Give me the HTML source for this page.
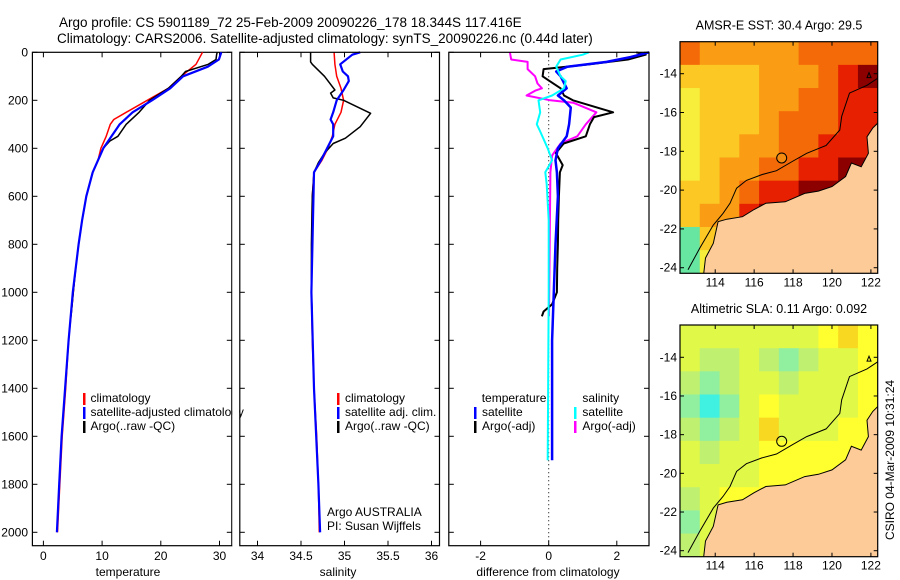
<!DOCTYPE html>
<html><head><meta charset="utf-8"><style>
html,body{margin:0;padding:0;background:#fff;}
svg{display:block;font-family:"Liberation Sans",sans-serif;}
</style></head><body>
<svg id="fig" width="900" height="580" viewBox="0 0 900 580" xmlns="http://www.w3.org/2000/svg">
<rect x="0" y="0" width="900" height="580" fill="#fff"/>
<g id="g1"></g>
<g id="g2"></g>
<g id="g3"></g>
<g id="m1"></g>
<g id="m2"></g>
<text x="59" y="27" font-size="13.5">Argo profile: CS 5901189_72 25-Feb-2009 20090226_178 18.344S 117.416E</text>
<text x="57" y="43" font-size="13.5">Climatology: CARS2006. Satellite-adjusted climatology: synTS_20090226.nc (0.44d later)</text>
<text transform="translate(894,460) rotate(-90)" text-anchor="middle" font-size="12">CSIRO 04-Mar-2009 10:31:24</text>
</svg>
<script>
// ---------- data ----------
const depthTicks = [0,200,400,600,800,1000,1200,1400,1600,1800,2000];
const tempTicks = [0,10,20,30];
const salTicks = [34,34.5,35,35.5,36];
const salTickLabels = ["34","34.5","35","35.5","36"];
const diffTicks = [-2,0,2];
// temperature profiles
const tClimDepth = [0,50,100,150,200,250,280,300,350,400,450,500,600,700,800,900,1000,1200,1400,1600,1800,2000];
const tClimVal =   [27.1,26,23.5,21.3,17.7,14.1,12,11.4,10.7,9.8,9.3,8.4,7.3,6.6,6.0,5.5,5.1,4.3,3.8,3.2,2.8,2.4];
const tArgoDepth = [0,10,30,50,80,100,150,200,250,300,350,370,400,450,500,600,700,800,900,1000,1050,1100];
const tArgoVal =   [29.6,29.5,29.4,28.1,24.2,23.5,21.3,18.1,16.3,14.1,12.7,11.3,10.2,9.3,8.4,7.3,6.6,6.0,5.5,5.1,4.9,4.7];
const tSatDepth = [0,30,60,100,150,200,250,300,350,400,450,500,600,700,800,900,1000,1200,1400,1600,1800,2000];
const tSatVal =   [30.3,29.9,28.0,23.8,21.6,18.5,15.2,13.0,11.6,10.2,9.3,8.4,7.3,6.6,6.0,5.5,5.0,4.3,3.7,3.1,2.7,2.3];
// salinity profiles
const sClimDepth = [0,50,100,150,200,250,300,350,400,450,500,600,1000,1200,1400,1600,1800,2000];
const sClimVal =   [34.88,34.89,34.91,34.96,34.99,34.96,34.89,34.86,34.81,34.74,34.65,34.63,34.62,34.63,34.65,34.68,34.70,34.71];
const sArgoDepth = [0,40,50,100,157,170,190,200,254,310,358,380,420,460,500,600,800,1000,1100];
const sArgoVal =   [34.61,34.61,34.63,34.77,34.89,34.84,34.87,34.99,35.30,35.18,35.01,34.87,34.77,34.70,34.65,34.63,34.62,34.62,34.63];
const sSatDepth = [0,10,50,80,100,120,157,200,250,280,300,350,400,450,500,1000,1400,1800,2000];
const sSatVal =   [35.18,35.09,34.95,34.98,35.04,35.05,34.99,34.91,34.87,34.84,34.87,34.87,34.80,34.73,34.65,34.62,34.65,34.70,34.72];
// difference profiles
const dTArgoDepth = [0,10,30,50,70,100,117,150,180,200,250,270,300,350,380,420,470,500,600,700,800,900,1000,1050,1080,1100];
const dTArgoVal =   [2.57,2.85,2.33,1.21,-0.15,-0.18,0,0.35,0.45,0.71,1.89,1.33,1.21,1.09,0.44,0.21,0.41,0.33,0.30,0.28,0.27,0.25,0.24,0.10,-0.15,-0.2];
const dTSatDepth = [0,20,40,60,80,100,150,180,200,230,300,350,400,450,500,600,800,1000,1200,1700];
const dTSatVal =   [2.95,2.4,1.7,0.55,0.22,0.35,0.53,0.27,0.45,0.65,0.6,0.53,0.27,0.2,0.24,0.27,0.2,0.15,0.1,0.1];
const dSSatDepth = [0,10,30,60,100,120,150,180,200,250,300,330,400,450,500,550,700,1000,1700];
const dSSatVal =   [1.18,1.0,0.35,0.22,0.35,0.5,0.45,0.1,-0.3,-0.25,-0.35,-0.25,-0.03,0.1,-0.1,-0.06,0,0,-0.03];
const dSArgoDepth = [0,30,40,70,100,130,150,160,180,200,210,250,300,350,380,430,500,1100];
const dSArgoVal =   [-1.14,-1.1,-0.62,-0.62,-0.4,-0.33,-0.2,-0.4,-0.65,0.05,0.72,1.4,1.09,0.84,0.35,0.1,0.05,0.01];
// maps
const mapLonTicks = [114,116,118,120,122];
const mapLatTicks = [14,16,18,20,22,24];
const sstGrid = [
 [4,3,3,3,3,3,4,4,4,4],
 [2,2,2,2,3,3,3,4,5,6],
 [1,2,2,2,3,3,4,4,5,5],
 [1,2,2,2,3,4,4,4,5,5],
 [1,2,2,3,3,4,4,5,5,5],
 [1,2,3,3,4,4,5,5,6,6],
 [2,2,3,4,5,5,6,6,6,6],
 [2,3,3,5,6,6,6,6,6,6],
 [0,2,3,5,6,6,6,6,6,6],
 [0,1,2,4,6,6,6,6,6,6]
];
const slaGrid = [
 [3,3,3,3,3,3,3,4,5,4],
 [3,2,2,3,2,1,2,3,3,4],
 [2,1,2,3,3,2,3,3,3,4],
 [1,0,1,3,4,3,3,3,3,4],
 [2,1,2,3,5,3,3,3,4,4],
 [3,2,3,3,4,4,4,4,4,4],
 [3,3,3,3,4,4,4,4,4,4],
 [2,3,4,4,4,4,4,4,4,4],
 [1,3,4,4,4,4,4,4,4,4],
 [2,3,4,4,4,4,4,4,4,4]
];
const landLon = [113.4,113.5,113.9,114.15,114.6,115.4,116.0,116.6,117.6,118.6,119.3,120.0,120.7,121.0,121.5,121.87,121.8,122.1,122.4,122.4];
const landLat = [24.4,23.5,22.74,21.63,21.5,21.37,21.0,20.68,20.6,20.17,20.05,19.82,19.3,18.6,18.8,18.1,17.25,16.8,16.5,24.4];
const isoLon = [112.6,113.2,113.9,114.4,114.76,115.1,115.6,116.4,117.15,118.0,118.7,119.7,120.4,120.5,120.9,121.8,122.4];
const isoLat = [24.1,23.0,21.8,21.2,20.68,19.9,19.5,19.2,19.0,18.5,18.1,17.7,16.9,16.2,15.0,14.6,14.2];
const argoLon = 117.416, argoLat = 18.344;

const NS="http://www.w3.org/2000/svg";
function mk(parent, tag, attrs){const e=document.createElementNS(NS,tag);for(const k in attrs)e.setAttribute(k,attrs[k]);parent.appendChild(e);return e;}

const yTop=52.3, pxPerM=0.24, yBot=545.7;
const yD = d => yTop + d*pxPerM;
const xT = t => 43.4 + 5.87*t;
const xS = s => 257.5 + 87*(s-34);
const xDf = v => 548.7 + 34.05*v;

function frame(g,x0,x1,name){
  const r=mk(g,'rect',{x:x0,y:yTop,width:x1-x0,height:yBot-yTop,fill:'none',stroke:'#000','stroke-width':1.2});
  
  
  depthTicks.forEach(d=>{
    const y=yD(d);
    const t1=mk(g,'line',{x1:x0,x2:x0+5,y1:y,y2:y,stroke:'#000'});
    
    
    const t2=mk(g,'line',{x1:x1-5,x2:x1,y1:y,y2:y,stroke:'#000'});
    
    
  });
}
function xticks(g,ticks,labels,sx,name){
  ticks.forEach((v,i)=>{
    const x=sx(v);
    const a=mk(g,'line',{x1:x,x2:x,y1:yBot,y2:yBot-5,stroke:'#000'});
    
    
    const b=mk(g,'line',{x1:x,x2:x,y1:yTop,y2:yTop+5,stroke:'#000'});
    
    
    const t=mk(g,'text',{x:x,y:560,'text-anchor':'middle','font-size':12});
    t.textContent=labels[i];
    
    
  });
}
function line(g,depths,vals,sx,color,w,name){
  const pts=depths.map((d,i)=>sx(vals[i]).toFixed(1)+','+yD(d).toFixed(1)).join(' ');
  const p=mk(g,'polyline',{points:pts,fill:'none',stroke:color,'stroke-width':w,'stroke-linejoin':'round'});
  
  
}
function txt(g,x,y,s,name,size,anchor){
  const t=mk(g,'text',{x:x,y:y,'font-size':size||12,'text-anchor':anchor||'start'});
  t.textContent=s;
  
  
  return t;
}
function legBar(g,x,y,color){
  const r=mk(g,'rect',{x:x,y:y-9,width:2.5,height:12,fill:color});
  
  
}

// panel 1
const g1=document.getElementById('g1');
frame(g1,32.4,231.8,'temperature-axes-frame');
depthTicks.forEach(d=>{
  const t=mk(g1,'text',{x:28,y:yD(d)+4,'text-anchor':'end','font-size':12});
  t.textContent=String(d);
  
  
});
xticks(g1,tempTicks,tempTicks.map(String),xT,'temperature');
txt(g1,128,576,'temperature','x-axis-title-temperature',12,'middle');
line(g1,tClimDepth,tClimVal,xT,'#f00',1.5,'temperature-climatology-line');
line(g1,tArgoDepth,tArgoVal,xT,'#000',1.5,'temperature-argo-line');
line(g1,tSatDepth,tSatVal,xT,'#00f',2.2,'temperature-satellite-line');
legBar(g1,83,402,'#f00'); txt(g1,90.5,402,'climatology','legend-entry-climatology');
legBar(g1,83,416,'#00f'); txt(g1,90.5,416,'satellite-adjusted climatology','legend-entry-satellite');
legBar(g1,83,430,'#000'); txt(g1,90.5,430,'Argo(..raw -QC)','legend-entry-argo');

// panel 2
const g2=document.getElementById('g2');
xticks(g2,salTicks,salTickLabels,xS,'salinity');
txt(g2,338,576,'salinity','x-axis-title-salinity',12,'middle');
line(g2,sClimDepth,sClimVal,xS,'#f00',1.5,'salinity-climatology-line');
line(g2,sArgoDepth,sArgoVal,xS,'#000',1.5,'salinity-argo-line');
line(g2,sSatDepth,sSatVal,xS,'#00f',2.2,'salinity-satellite-line');
legBar(g2,337,402,'#f00'); txt(g2,345,402,'climatology','legend-entry-climatology');
legBar(g2,337,416,'#00f'); txt(g2,345,416,'satellite adj. clim.','legend-entry-satellite');
legBar(g2,337,430,'#000'); txt(g2,345,430,'Argo(..raw -QC)','legend-entry-argo');
txt(g2,327,516,'Argo AUSTRALIA','float-owner-label');
txt(g2,327,530,'PI: Susan Wijffels','pi-label');
mk(g2,'rect',{x:232.3,y:yTop,width:7,height:yBot-yTop,fill:'#fff'});
frame(g2,239.8,439.5,'salinity-axes-frame');

// panel 3
const g3=document.getElementById('g3');
xticks(g3,diffTicks,diffTicks.map(String),xDf,'difference');
txt(g3,548,576,'difference from climatology','x-axis-title-difference',12,'middle');
const z=mk(g3,'line',{x1:xDf(0),x2:xDf(0),y1:yTop,y2:yBot,stroke:'#000','stroke-dasharray':'1,3'});


line(g3,dSArgoDepth,dSArgoVal,xDf,'#f0f',2,'salinity-argo-diff-line');
line(g3,dTArgoDepth,dTArgoVal,xDf,'#000',2,'temperature-argo-diff-line');
line(g3,dTSatDepth,dTSatVal,xDf,'#00f',2.5,'temperature-satellite-diff-line');
line(g3,dSSatDepth,dSSatVal,xDf,'#0ff',2,'salinity-satellite-diff-line');
txt(g3,481.7,402,'temperature','legend-heading-temperature');
legBar(g3,474,416,'#00f'); txt(g3,482,416,'satellite','legend-entry-temp-satellite');
legBar(g3,474,430,'#000'); txt(g3,482,430,'Argo(-adj)','legend-entry-temp-argo');
txt(g3,582.4,402,'salinity','legend-heading-salinity');
legBar(g3,574,416,'#0ff'); txt(g3,582.4,416,'satellite','legend-entry-sal-satellite');
legBar(g3,574,430,'#f0f'); txt(g3,582.4,430,'Argo(-adj)','legend-entry-sal-argo');
frame(g3,448.8,649,'difference-axes-frame');

// ---------- maps ----------
const sstColors=['#66e6a0','#f6ee3a','#fbc824','#fa9c14','#f56a08','#e62000','#8c0000'];
const slaColors=['#40f0e0','#90f0a0','#c0f070','#e0f848','#ffff30','#f8d820'];
function drawMap(g,top,bot,latTop,pxLat,grid,colors,title,name){
  const x0=680,x1=877.7,lon0=112.19,pxLon=19.46;
  const X=lon=>x0+(lon-lon0)*pxLon, Y=lat=>top+(lat-latTop)*pxLat;
  const clipId='clip'+name;
  const cp=mk(g,'clipPath',{id:clipId});
  mk(cp,'rect',{x:x0,y:top,width:x1-x0,height:bot-top});
  const inner=mk(g,'g',{'clip-path':'url(#'+clipId+')'});
  const rows=grid.length, cols=grid[0].length;
  const cw=(x1-x0)/cols, ch=(bot-top)/rows;
  grid.forEach((row,ri)=>row.forEach((v,ci)=>{
    const c=mk(inner,'rect',{x:x0+ci*cw,y:top+ri*ch,width:cw+0.5,height:ch+0.5,fill:colors[v]});
    
    
  }));
  const land=mk(inner,'polygon',{points:landLon.map((l,i)=>X(l).toFixed(1)+','+Y(landLat[i]).toFixed(1)).join(' '),fill:'#fccb98',stroke:'#000','stroke-width':1});
  
  
  const iso=mk(inner,'polyline',{points:isoLon.map((l,i)=>X(l).toFixed(1)+','+Y(isoLat[i]).toFixed(1)).join(' '),fill:'none',stroke:'#000','stroke-width':1});
  
  
  const isl=mk(inner,'path',{d:`M${X(121.8)},${Y(14.2)} l2,-5 l2,5 z`,fill:'none',stroke:'#000'});
  
  
  const ci=mk(g,'circle',{cx:X(argoLon),cy:Y(argoLat),r:5,fill:name==='sst'?'#f58a10':'none',stroke:'#000','stroke-width':1});
  
  
  const fr=mk(g,'rect',{x:x0,y:top,width:x1-x0,height:bot-top,fill:'none',stroke:'#000','stroke-width':1.2});
  
  
  mapLonTicks.forEach(l=>{
    const x=X(l);
    const a=mk(g,'line',{x1:x,x2:x,y1:bot,y2:bot-4,stroke:'#000'});
    
    
    const b=mk(g,'line',{x1:x,x2:x,y1:top,y2:top+4,stroke:'#000'});
    
    
    txt(g,x,bot+13,String(l),'map-lon-label',12,'middle');
  });
  mapLatTicks.forEach(l=>{
    const y=Y(l);
    const a=mk(g,'line',{x1:x0,x2:x0+4,y1:y,y2:y,stroke:'#000'});
    
    
    const b=mk(g,'line',{x1:x1-4,x2:x1,y1:y,y2:y,stroke:'#000'});
    
    
    txt(g,x0-3,y+4,'-'+l,'map-lat-label',12,'end');
  });
  txt(g,779,top-12,title,'map-title',12.5,'middle');
}
drawMap(document.getElementById('m1'),41.7,273.3,12.35,19.4,sstGrid,sstColors,'AMSR-E SST: 30.4 Argo: 29.5','sst');
drawMap(document.getElementById('m2'),325,556.7,12.33,19.34,slaGrid,slaColors,'Altimetric SLA: 0.11 Argo: 0.092','sla');
</script>
</body></html>
